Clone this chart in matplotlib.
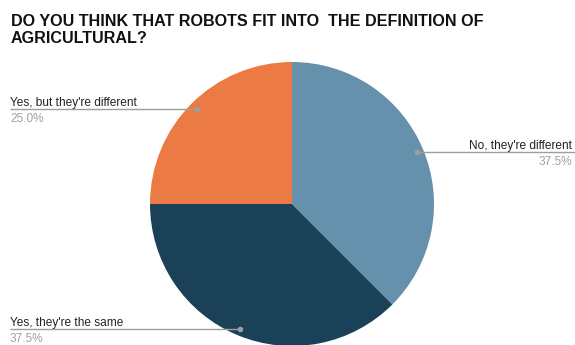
import numpy as np
from matplotlib import pyplot as plt

plt.rcParams['font.family'] = ['Liberation Sans', 'DejaVu Sans']

# 数据
labels = ["No, they're different", "Yes, they're the same", "Yes, but they're different"]
values = [37.5, 37.5, 25.0]
colors = ['#6591ad', '#1b4159', '#ec7a44']
title = 'DO YOU THINK THAT ROBOTS FIT INTO  THE DEFINITION OF\nAGRICULTURAL?'

W, H = 575, 345
fig = plt.figure(figsize=(W / 100, H / 100), dpi=100)
ax = fig.add_axes([0, 0, 1, 1])

cx, cy, r = 292, H - 204, 142
wedges, _ = ax.pie(values, colors=colors, startangle=90, counterclock=False,
                   center=(cx, cy), radius=r, frame=True,
                   wedgeprops=dict(linewidth=0))
ax.set_xlim(0, W)
ax.set_ylim(0, H)
ax.set_aspect('equal')
ax.axis('off')

# 标签与引线
for w, lab, v in zip(wedges, labels, values):
    ang = np.deg2rad((w.theta1 + w.theta2) / 2)
    px = cx + 0.95 * r * np.cos(ang)
    py = cy + 0.95 * r * np.sin(ang)
    if px > cx:
        x0, x1, ha, tx = px, W, 'right', W - 3
    else:
        x0, x1, ha, tx = 10, px, 'left', 10
    ax.plot([x0, x1], [py, py], color='#9e9e9e', lw=1, solid_capstyle='butt')
    ax.plot(px, py, 'o', color='#9e9e9e', ms=3)
    ax.text(tx, py + 3, lab, ha=ha, va='baseline', fontsize=8.6, color='#222222')
    ax.text(tx, py - 13, '%.1f%%' % v, ha=ha, va='baseline', fontsize=8.6, color='#a0a0a0')

fig.text(11 / W, 1 - 14 / H, title, ha='left', va='top', fontsize=11.6,
         fontweight='bold', color='#111111', linespacing=1.2)

fig.savefig('out.png', dpi=100)
